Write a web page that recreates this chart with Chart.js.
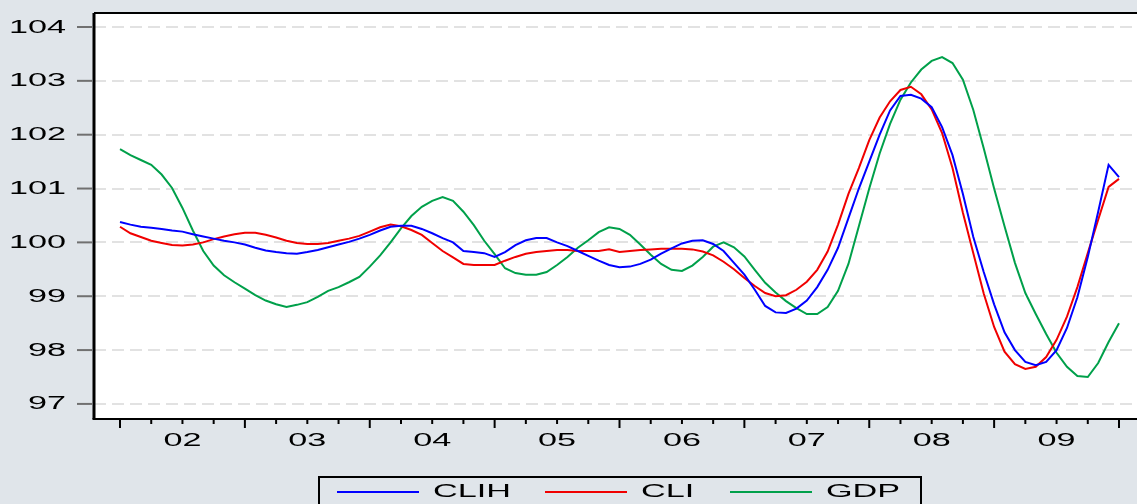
<!DOCTYPE html>
<html>
<head>
<meta charset="utf-8">
<script src="https://cdn.jsdelivr.net/npm/chart.js@4.4.0/dist/chart.umd.min.js"></script>
<style>
  html, body { margin: 0; padding: 0; background: #e0e5ea; }
  canvas { display: block; }
</style>
</head>
<body>
<canvas id="chart" width="1137" height="504"></canvas>
<script>
// monthly observations, 2002M01 .. 2010M01
const years = ["02", "03", "04", "05", "06", "07", "08", "09"];
const months = [];
years.forEach(y => {
    for (let m = 1; m <= 12; m++) months.push("20" + y + "M" + String(m).padStart(2, "0"));
});
months.push("2010M01");

const yTicks = [97, 98, 99, 100, 101, 102, 103, 104];

const clih = [
    100.38, 100.33, 100.29, 100.27, 100.25, 100.22, 100.20, 100.15, 100.11, 100.07, 100.03, 100.00,
    99.96, 99.90, 99.85, 99.82, 99.80, 99.79, 99.82, 99.86, 99.91, 99.96, 100.01, 100.07,
    100.14, 100.22, 100.29, 100.31, 100.31, 100.25, 100.17, 100.08, 100.00, 99.84, 99.82, 99.80,
    99.73, 99.82, 99.95, 100.04, 100.08, 100.08, 100.00, 99.93, 99.84, 99.75, 99.66, 99.58,
    99.54, 99.55, 99.60, 99.68, 99.79, 99.89, 99.98, 100.03, 100.04, 99.97, 99.84, 99.62,
    99.40, 99.12, 98.82, 98.70, 98.69, 98.77, 98.92, 99.17, 99.49, 99.90, 100.45, 101.00,
    101.50, 102.00, 102.45, 102.72, 102.74, 102.67, 102.51, 102.14, 101.62, 100.90, 100.10, 99.45,
    98.85, 98.33, 98.00, 97.78, 97.72, 97.78, 98.00, 98.41, 98.98, 99.73, 100.57, 101.44,
    101.21
];
const cli = [
    100.29, 100.17, 100.10, 100.03, 99.99, 99.95, 99.94, 99.96, 100.00, 100.06, 100.11, 100.15,
    100.18, 100.18, 100.14, 100.09, 100.03, 99.99, 99.97, 99.97, 99.99, 100.03, 100.07, 100.12,
    100.20, 100.28, 100.33, 100.30, 100.23, 100.14, 99.99, 99.84, 99.72, 99.60, 99.58, 99.58,
    99.58, 99.66, 99.73, 99.79, 99.82, 99.84, 99.86, 99.86, 99.84, 99.84, 99.84, 99.87,
    99.82, 99.84, 99.86, 99.87, 99.88, 99.88, 99.88, 99.87, 99.83, 99.76, 99.64, 99.50,
    99.34, 99.19, 99.06, 99.00, 99.02, 99.12, 99.27, 99.49, 99.83, 100.33, 100.90, 101.38,
    101.90, 102.32, 102.62, 102.83, 102.89, 102.75, 102.47, 102.03, 101.38, 100.55, 99.80, 99.05,
    98.43, 97.97, 97.74, 97.65, 97.69, 97.87, 98.19, 98.62, 99.17, 99.80, 100.42, 101.03,
    101.18
];
const gdp = [
    101.73, 101.62, 101.53, 101.44, 101.26, 101.01, 100.64, 100.22, 99.84, 99.57, 99.39, 99.26,
    99.14, 99.02, 98.92, 98.85, 98.80, 98.84, 98.89, 98.99, 99.10, 99.17, 99.26, 99.36,
    99.55, 99.76, 100.00, 100.26, 100.49, 100.66, 100.77, 100.84, 100.77, 100.57, 100.32, 100.03,
    99.78, 99.52, 99.43, 99.40, 99.40, 99.45, 99.58, 99.73, 99.90, 100.04, 100.19, 100.28,
    100.25, 100.14, 99.96, 99.77, 99.60, 99.49, 99.47, 99.57, 99.73, 99.92, 100.00, 99.91,
    99.74, 99.49, 99.25, 99.07, 98.91, 98.78, 98.67, 98.67, 98.80, 99.10, 99.60, 100.30,
    101.00, 101.65, 102.20, 102.65, 102.97, 103.21, 103.37, 103.44, 103.33, 103.02, 102.46, 101.75,
    101.00, 100.30, 99.62, 99.06, 98.67, 98.30, 97.95, 97.69, 97.52, 97.50, 97.76, 98.15,
    98.50
];

const series = [
    { label: "CLIH", data: clih, color: "#0000ff" },
    { label: "CLI", data: cli, color: "#f00000" },
    { label: "GDP", data: gdp, color: "#00a04a" },
];

// the reference is stretched sideways, so the text is too
const SX = 1.9;
const FONT = "18px 'Liberation Sans', Arial, sans-serif";

function wideText(ctx, text, x, y, align) {
    ctx.save();
    ctx.translate(x, y);
    ctx.scale(SX, 1);
    ctx.textAlign = align;
    ctx.textBaseline = "alphabetic";
    ctx.fillText(text, 0, 0);
    ctx.restore();
}

const eviewsFrame = {
    id: "eviewsFrame",
    beforeDraw(chart) {
        const { ctx, chartArea: a } = chart;
        ctx.save();
        ctx.fillStyle = "#ffffff";
        ctx.fillRect(a.left, a.top, chart.width - a.left, a.bottom - a.top);
        ctx.restore();
    },
    afterDatasetsDraw(chart) {
        const { ctx, chartArea: a } = chart;
        const xs = chart.scales.x, ys = chart.scales.y;
        ctx.save();

        // frame: left, top, bottom
        ctx.strokeStyle = "#000";
        ctx.lineWidth = 3;
        ctx.beginPath();
        ctx.moveTo(a.left, a.top);
        ctx.lineTo(a.left, a.bottom);
        ctx.stroke();
        ctx.lineWidth = 2;
        ctx.beginPath();
        ctx.moveTo(a.left, a.top);
        ctx.lineTo(chart.width, a.top);
        ctx.moveTo(a.left - 1.5, a.bottom);
        ctx.lineTo(chart.width, a.bottom);
        ctx.stroke();

        // y ticks and labels
        ctx.fillStyle = "#000";
        ctx.font = FONT;
        yTicks.forEach(v => {
            const py = ys.getPixelForValue(v);
            ctx.strokeStyle = "#707070";
            ctx.lineWidth = 2;
            ctx.beginPath();
            ctx.moveTo(a.left - 17, py);
            ctx.lineTo(a.left - 2, py);
            ctx.stroke();
            wideText(ctx, String(v), a.left - 28, py + 5.5, "right");
        });

        // x ticks: years long, quarters short
        ctx.strokeStyle = "#000";
        ctx.lineWidth = 2;
        months.forEach((m, i) => {
            if (i % 3 !== 0) return;
            const px = xs.getPixelForValue(i);
            const len = i % 12 === 0 ? 9 : 5;
            ctx.beginPath();
            ctx.moveTo(px, a.bottom);
            ctx.lineTo(px, a.bottom + len);
            ctx.stroke();
        });
        years.forEach(y => {
            const px = xs.getPixelForValue(months.indexOf("20" + y + "M07"));
            wideText(ctx, y, px, a.bottom + 27, "center");
        });

        // legend box
        ctx.strokeStyle = "#000";
        ctx.lineWidth = 2;
        ctx.strokeRect(319, 477, 602, 40);
        const slots = [337, 545, 730];
        chart.data.datasets.forEach((ds, k) => {
            const x0 = slots[k];
            ctx.strokeStyle = ds.borderColor;
            ctx.lineWidth = 2;
            ctx.beginPath();
            ctx.moveTo(x0, 492);
            ctx.lineTo(x0 + 82, 492);
            ctx.stroke();
            ctx.fillStyle = "#000";
            wideText(ctx, ds.label, x0 + 96, 497, "left");
        });

        ctx.restore();
    }
};

new Chart(document.getElementById("chart").getContext("2d"), {
    type: "line",
    data: {
        labels: months,
        datasets: series.map(s => ({
            label: s.label,
            data: s.data.map((v, i) => ({ x: i, y: v })),
            borderColor: s.color,
            backgroundColor: s.color,
            borderWidth: 2,
            pointRadius: 0,
            tension: 0,
            fill: false,
        })),
    },
    options: {
        responsive: false,
        animation: false,
        layout: {
            padding: { left: 94, top: 13, right: 0, bottom: 85 },
        },
        plugins: {
            legend: { display: false },
            tooltip: { enabled: false },
        },
        scales: {
            x: {
                type: "linear",
                display: false,
                min: -2.5,
                max: 97.73,
            },
            y: {
                min: 96.72,
                max: 104.26,
                afterBuildTicks: scale => {
                    scale.ticks = yTicks.map(v => ({ value: v }));
                },
                ticks: { display: false },
                grid: {
                    color: "#e2e2e2",
                    lineWidth: 2,
                    drawTicks: false,
                },
                border: { display: false, dash: [12, 6] },
            },
        },
    },
    plugins: [eviewsFrame],
});
</script>
</body>
</html>
